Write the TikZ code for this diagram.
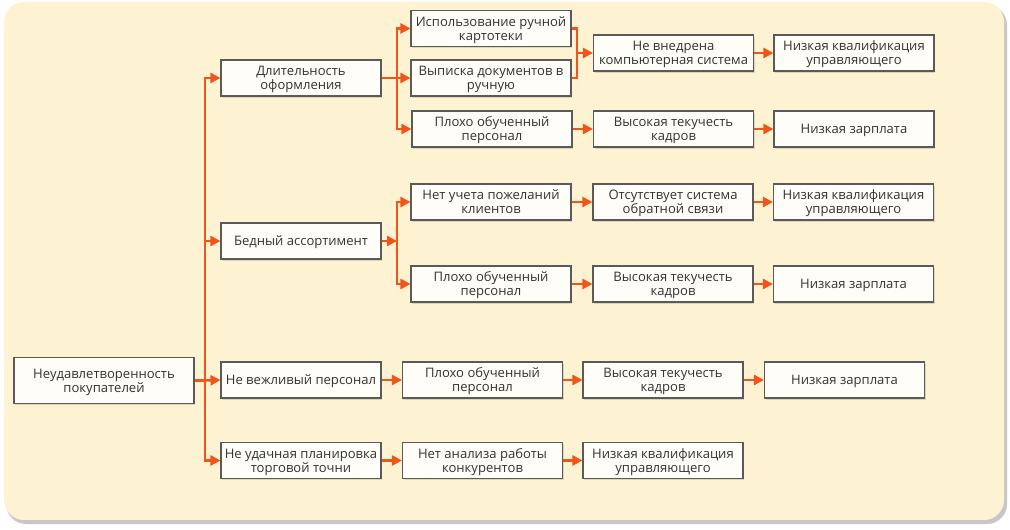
\documentclass[tikz,border=0pt]{standalone}
\usepackage{fontspec}
\setmainfont{Open Sans}
\usetikzlibrary{arrows.meta,shadows,calc}
\definecolor{bgc}{HTML}{FDF3D3}
\definecolor{arrc}{HTML}{F0561A}
\definecolor{boxfill}{HTML}{FFFDF8}
\definecolor{boxdraw}{HTML}{5A5A5A}
\definecolor{txt}{HTML}{333333}
\newcommand\boxtxt[1]{\rule{0pt}{0.984em}#1\rule[-0.27em]{0pt}{0pt}}
\begin{document}
\begin{tikzpicture}[x=0.75pt,y=-0.75pt,
  box/.style={draw=boxdraw, line width=0.8pt, fill=boxfill, minimum width=120pt,
    minimum height=27pt, inner sep=1pt, align=center,
    font=\fontsize{9.8}{10.5}\selectfont, text=txt,
    drop shadow={shadow xshift=1pt, shadow yshift=-1.2pt, opacity=0.12, fill=black}},
  conn/.style={draw=arrc, line width=1.9pt},
  arr/.style={conn, -{Triangle[length=7.5pt,width=7.5pt]}}]
\useasboundingbox (0,0) rectangle (1010,530);
\fill[white] (0,0) rectangle (1010,530);
\fill[black!22, rounded corners=15pt] (6,5) rectangle (1007,524);
\fill[bgc, rounded corners=15pt] (4,2) rectangle (1004,520);

\node[box, minimum width=135pt, minimum height=35pt] (root) at (104,380.5) {\boxtxt{Неудавлетворенность\\покупателей}};
\node[box] (a) at (301,78) {\boxtxt{Длительность\\оформления}};
\node[box] (b) at (301,241) {\boxtxt{Бедный ассортимент}};
\node[box] (c) at (301,380) {\boxtxt{Не вежливый персонал}};
\node[box] (d) at (301,460.5) {\boxtxt{Не удачная планировка\\торговой точни}};

\node[box] (a1) at (491,28.5) {\boxtxt{Использование ручной\\картотеки}};
\node[box] (a2) at (491,78) {\boxtxt{Выписка документов в\\ручную}};
\node[box] (a3) at (492,129) {\boxtxt{Плохо обученный\\персонал}};
\node[box] (a12) at (673.5,53) {\boxtxt{Не внедрена\\компьютерная система}};
\node[box] (a123) at (854,53) {\boxtxt{Низкая квалификация\\управляющего}};
\node[box] (a31) at (673.5,129) {\boxtxt{Высокая текучесть\\кадров}};
\node[box] (a311) at (854,129) {\boxtxt{Низкая зарплата}};

\node[box] (b1) at (491,202) {\boxtxt{Нет учета пожеланий\\клиентов}};
\node[box] (b11) at (673,202) {\boxtxt{Отсутствует система\\обратной связи}};
\node[box] (b111) at (853.5,202) {\boxtxt{Низкая квалификация\\управляющего}};
\node[box] (b2) at (491,284) {\boxtxt{Плохо обученный\\персонал}};
\node[box] (b21) at (673,284) {\boxtxt{Высокая текучесть\\кадров}};
\node[box] (b211) at (853.5,284) {\boxtxt{Низкая зарплата}};

\node[box] (c1) at (482.5,380) {\boxtxt{Плохо обученный\\персонал}};
\node[box] (c11) at (663,380) {\boxtxt{Высокая текучесть\\кадров}};
\node[box] (c111) at (844.5,380) {\boxtxt{Низкая зарплата}};

\node[box] (d1) at (482.5,460.5) {\boxtxt{Нет анализа работы\\конкурентов}};
\node[box] (d11) at (663,460.5) {\boxtxt{Низкая квалификация\\управляющего}};

% trunk
\coordinate (t) at (205,380.5);
\draw[conn] (root.east) -- (t);
\draw[arr] (t) |- (a.west);
\draw[arr] (t) |- (b.west);
\draw[arr] (t) -- (c.west);
\draw[arr] (t) |- (d.west);

% branch a
\coordinate (ta) at (397,78);
\draw[conn] (a.east) -- (ta);
\draw[arr] (ta) |- (a1.west);
\draw[arr] (ta) -- (a2.west);
\draw[arr] (ta) |- (a3.west);

% merge
\coordinate (m) at (577,53);
\draw[conn] (a1.east) -| (m);
\draw[conn] (a2.east) -| (m);
\draw[arr] (m) -- (a12.west);
\draw[arr] (a12) -- (a123);
\draw[arr] (a3) -- (a31);
\draw[arr] (a31) -- (a311);

% branch b
\coordinate (tb) at (397,241);
\draw[arr] (b.east) -- (tb);
\draw[arr] (tb) |- (b1.west);
\draw[arr] (tb) |- (b2.west);
\draw[arr] (b1) -- (b11);
\draw[arr] (b11) -- (b111);
\draw[arr] (b2) -- (b21);
\draw[arr] (b21) -- (b211);

% rows c, d
\draw[arr] (c) -- (c1);
\draw[arr] (c1) -- (c11);
\draw[arr] (c11) -- (c111);
\draw[arr] (d) -- (d1);
\draw[arr] (d1) -- (d11);
\end{tikzpicture}
\end{document}
